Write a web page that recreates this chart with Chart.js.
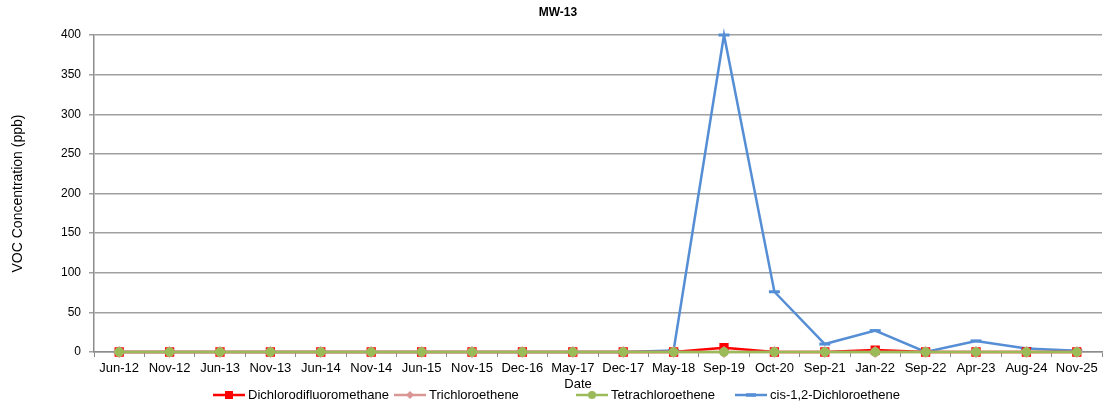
<!DOCTYPE html>
<html>
<head>
<meta charset="utf-8">
<script src="https://cdn.jsdelivr.net/npm/chart.js@4.4.1/dist/chart.umd.min.js"></script>
<style>
html,body{margin:0;padding:0;background:#fff;}
#wrap{width:1103px;height:407px;}
</style>
</head>
<body>
<div id="wrap"><canvas id="c" width="1103" height="407"></canvas></div>
<script>
const categories = ["Jun-12","Nov-12","Jun-13","Nov-13","Jun-14","Nov-14","Jun-15","Nov-15","Dec-16","May-17","Dec-17","May-18","Sep-19","Oct-20","Sep-21","Jan-22","Sep-22","Apr-23","Aug-24","Nov-25"];
const dichlorodifluoromethane = [0,0,0,0,0,0,0,0,0,0,0,0,5.4,0,0,2.5,0,0,0,0];
const trichloroethene = [0,0,0,0,0,0,0,0,0,0,0,0,0,0,0,0,0,0,0,0];
const tetrachloroethene = [0,0,0,0,0,0,0,0,0,0,0,0,0,0,0,0,0,0,0,0];
const cisDichloroethene = [0,0,0,0,0,0,0,0,0,0,0,2,400,76,10,27,0,14,4.5,1.5];
const yTicks = [0,50,100,150,200,250,300,350,400];

const FONT = "'Liberation Sans', Arial, sans-serif";
const BLUE = "#558ED5";

const legendItems = [
  {label:"Dichlorodifluoromethane", color:"#FF0000", style:"rect", x:213},
  {label:"Trichloroethene", color:"#D99694", style:"rectRot", x:394},
  {label:"Tetrachloroethene", color:"#9BBB59", style:"circle", x:576},
  {label:"cis-1,2-Dichloroethene", color:BLUE, style:"line", x:735}
];

const textPlugin = {
  id: 'customText',
  afterDraw(chart) {
    const ctx = chart.ctx;
    ctx.save();
    ctx.fillStyle = "#000";
    ctx.textAlign = "center";
    ctx.textBaseline = "middle";
    ctx.font = "bold 12px " + FONT;
    ctx.fillText("MW-13", 558, 13);
    ctx.font = "13px " + FONT;
    ctx.fillText("Date", 578, 384);
    const y = 395;
    ctx.textAlign = "left";
    ctx.font = "13px " + FONT;
    legendItems.forEach(it => {
      ctx.strokeStyle = it.color;
      ctx.lineWidth = 2.5;
      ctx.beginPath();
      ctx.moveTo(it.x, y);
      ctx.lineTo(it.x + 32, y);
      ctx.stroke();
      const cx = it.x + 16;
      ctx.fillStyle = it.color;
      if (it.style === 'rect') {
        ctx.fillRect(cx - 4, y - 4, 8, 8);
      } else if (it.style === 'rectRot') {
        ctx.beginPath();
        ctx.moveTo(cx, y - 4); ctx.lineTo(cx + 4, y); ctx.lineTo(cx, y + 4); ctx.lineTo(cx - 4, y); ctx.closePath();
        ctx.fill();
      } else if (it.style === 'circle') {
        ctx.beginPath(); ctx.arc(cx, y, 4, 0, Math.PI * 2); ctx.fill();
      } else if (it.style === 'line') {
        ctx.lineWidth = 3.5;
        ctx.beginPath(); ctx.moveTo(cx - 5, y); ctx.lineTo(cx + 5, y); ctx.stroke();
      }
      ctx.fillStyle = "#000";
      ctx.fillText(it.label, it.x + 35, y + 0.5);
    });
    ctx.restore();
  }
};

new Chart(document.getElementById('c'), {
  type: 'line',
  data: {
    labels: categories,
    datasets: [
      {label:"Dichlorodifluoromethane", data:dichlorodifluoromethane, borderColor:"#FF0000", backgroundColor:"#FF0000",
       pointStyle:'rect', pointRadius:5.7, pointBorderColor:"#FF0000", pointBackgroundColor:"#FF0000", pointBorderWidth:1.2, borderWidth:2.5, order:3, clip:false},
      {label:"Trichloroethene", data:trichloroethene, borderColor:"#D99694", backgroundColor:"#D99694",
       pointStyle:'rectRot', pointRadius:4.2, pointBorderColor:"#D99694", pointBackgroundColor:"#E8B4B2", borderWidth:2.5, order:2, clip:false},
      {label:"Tetrachloroethene", data:tetrachloroethene, borderColor:"#9BBB59", backgroundColor:"#9BBB59",
       pointStyle:'circle', pointRadius:3.6, pointBorderColor:"#9BBB59", pointBackgroundColor:"#9BBB59", borderWidth:2.5, order:1, clip:false},
      {label:"cis-1,2-Dichloroethene", data:cisDichloroethene, borderColor:BLUE, backgroundColor:BLUE,
       pointStyle:'line', pointRadius:5.5, pointBorderColor:BLUE, pointBorderWidth:3, borderWidth:2.5, order:4, clip:false}
    ]
  },
  options: {
    responsive: false,
    animation: false,
    layout: {autoPadding:false, padding: {left:0, right:1, top:0, bottom:0}},
    plugins: {
      legend: {display:false},
      tooltip: {enabled:false},
      title: {display:true, text:"MW-13", color:"rgba(0,0,0,0)", font:{family:FONT, size:12, weight:'bold'}, padding:{top:7, bottom:13.6}}
    },
    scales: {
      x: {
        offset: true,
        grid: {offset:true, drawOnChartArea:false, drawTicks:true, tickLength:5, color:"#8c8c8c"},
        border: {display:true, color:"#8c8c8c", width:1.5},
        ticks: {color:"#000", font:{family:FONT, size:13}, maxRotation:0, autoSkip:false, padding:4},
        afterFit(s){ s.height = 55; }
      },
      y: {
        min: 0, max: 400,
        afterBuildTicks(s){ s.ticks = yTicks.map(v => ({value:v})); },
        grid: {color:"#a0a0a0", lineWidth:1.5, drawTicks:true, tickLength:5},
        border: {display:true, color:"#8c8c8c", width:1.5},
        ticks: {color:"#000", font:{family:FONT, size:12}, padding:8},
        title: {display:true, text:"VOC Concentration (ppb)", color:"#000", font:{family:FONT, size:14}, padding:{top:10, bottom:0}},
        afterFit(s){ s.width = 94; }
      }
    }
  },
  plugins: [textPlugin]
});
</script>
</body>
</html>
